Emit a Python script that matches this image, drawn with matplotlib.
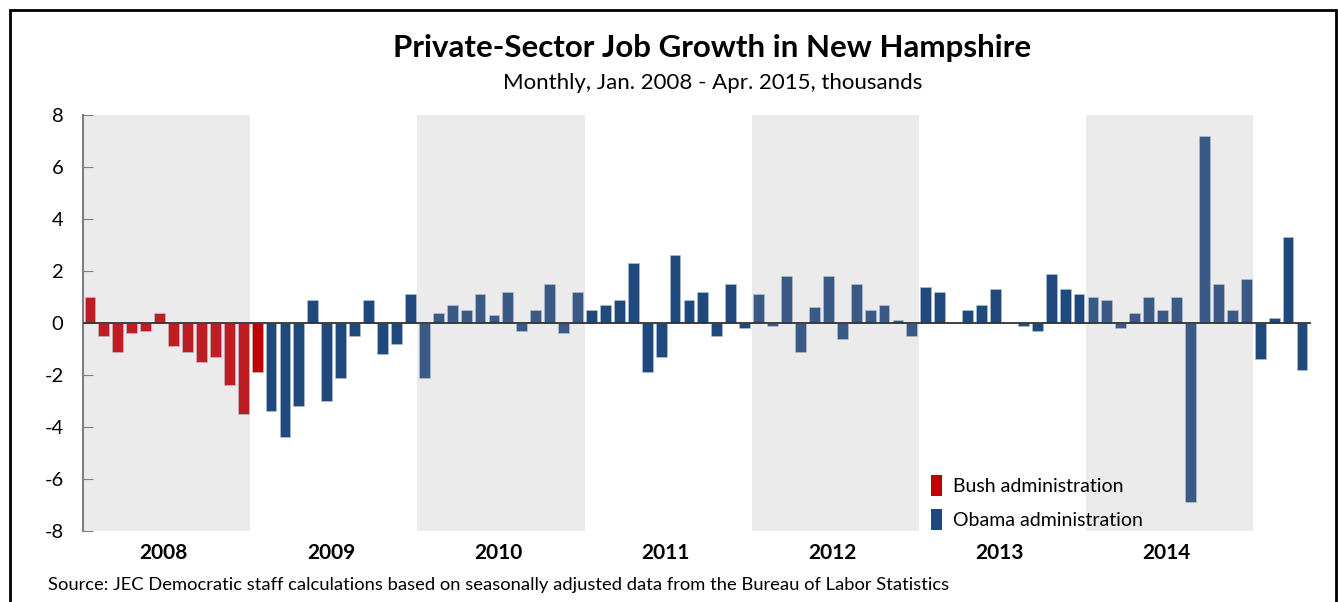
import matplotlib
matplotlib.use("Agg")
import matplotlib.pyplot as plt
from matplotlib.patches import Patch, Rectangle

plt.rcParams["font.family"] = ["Lato", "DejaVu Sans"]
plt.rcParams["axes.unicode_minus"] = False

# monthly private-sector job change, thousands, Jan 2008 - Apr 2015
bush = [1.0, -0.5, -1.1, -0.4, -0.3, 0.4, -0.9, -1.1, -1.5, -1.3, -2.4, -3.5,
        -1.9]
obama = [-3.4, -4.4, -3.2, 0.9, -3.0, -2.1, -0.5, 0.9, -1.2, -0.8, 1.1,  # 2009
         -2.1, 0.4, 0.7, 0.5, 1.1, 0.3, 1.2, -0.3, 0.5, 1.5, -0.4, 1.2,   # 2010
         0.5, 0.7, 0.9, 2.3, -1.9, -1.3, 2.6, 0.9, 1.2, -0.5, 1.5, -0.2,  # 2011
         1.1, -0.1, 1.8, -1.1, 0.6, 1.8, -0.6, 1.5, 0.5, 0.7, 0.1, -0.5,  # 2012
         1.4, 1.2, 0.0, 0.5, 0.7, 1.3, 0.0, -0.1, -0.3, 1.9, 1.3, 1.1,    # 2013
         1.0, 0.9, -0.2, 0.4, 1.0, 0.5, 1.0, -6.9, 7.2, 1.5, 0.5, 1.7,    # 2014
         -1.4, 0.2, 3.3, -1.8]                                            # 2015
years = [2008, 2009, 2010, 2011, 2012, 2013, 2014]
shaded_years = [2008, 2010, 2012, 2014]

red = "#BE1E23"
red_last = "#C00000"
blue = "#1F497D"
blue_shaded = "#3A5A85"
band = "#EBEBEB"

fig = plt.figure(figsize=(13.38, 6.02), dpi=100)
ax = fig.add_axes([83 / 1338, 1 - 531 / 602, (1311 - 83) / 1338, 416 / 602])

for y in shaded_years:
    i0 = (y - 2008) * 12
    ax.axvspan(i0 - 0.5, i0 + 11.5, color=band, lw=0, zorder=0)

values = bush + obama
colors = []
for i in range(len(values)):
    yr = 2008 + i // 12
    if i < len(bush) - 1:
        colors.append(red)
    elif i == len(bush) - 1:
        colors.append(red_last)
    elif yr in shaded_years:
        colors.append(blue_shaded)
    else:
        colors.append(blue)

ax.bar(range(len(values)), values, width=0.78, color=colors,
       edgecolor="#B8C4D4", linewidth=0.4, zorder=2)
ax.axhline(0, color="#333333", lw=1.3, zorder=3)

ax.set_xlim(-0.5, len(values) - 0.5 + 0.15)
ax.set_ylim(-8, 8)
ax.set_yticks(range(-8, 9, 2))
ax.tick_params(axis="y", direction="in", length=7, color="#7F7F7F",
               labelsize=14.5, pad=14)
ax.set_xticks([])
for s in ["top", "right", "bottom"]:
    ax.spines[s].set_visible(False)
ax.spines["left"].set_color("#7F7F7F")
ax.spines["left"].set_linewidth(1.5)

for y in years:
    i0 = (y - 2008) * 12
    ax.text(i0 + 5.3, -8.85, str(y), ha="center", va="center",
            fontsize=15, fontweight="bold")

handles = [Patch(facecolor=red_last), Patch(facecolor=blue)]
ax.legend(handles, ["Bush administration", "Obama administration"],
          loc="lower left", bbox_to_anchor=(0.6765, -0.04), frameon=False,
          fontsize=14, handlelength=0.55, handleheight=1.3,
          handletextpad=0.55, labelspacing=0.65)

fig.text(0.5325, 1 - 48 / 602, "Private-Sector Job Growth in New Hampshire",
         ha="center", va="center", fontsize=22.5, fontweight="bold")
fig.text(0.5325, 1 - 83 / 602, "Monthly, Jan. 2008 - Apr. 2015, thousands",
         ha="center", va="center", fontsize=16)
fig.text(48 / 1338, 1 - 585 / 602,
         "Source: JEC Democratic staff calculations based on seasonally adjusted data from the Bureau of Labor Statistics",
         ha="left", va="center", fontsize=13.2)

fig.patches.append(Rectangle((10 / 1338, -0.05), 1326 / 1338, 1.05 - 10 / 602,
                             transform=fig.transFigure, fill=False,
                             edgecolor="black", lw=2))

fig.savefig("out.png", dpi=100)
